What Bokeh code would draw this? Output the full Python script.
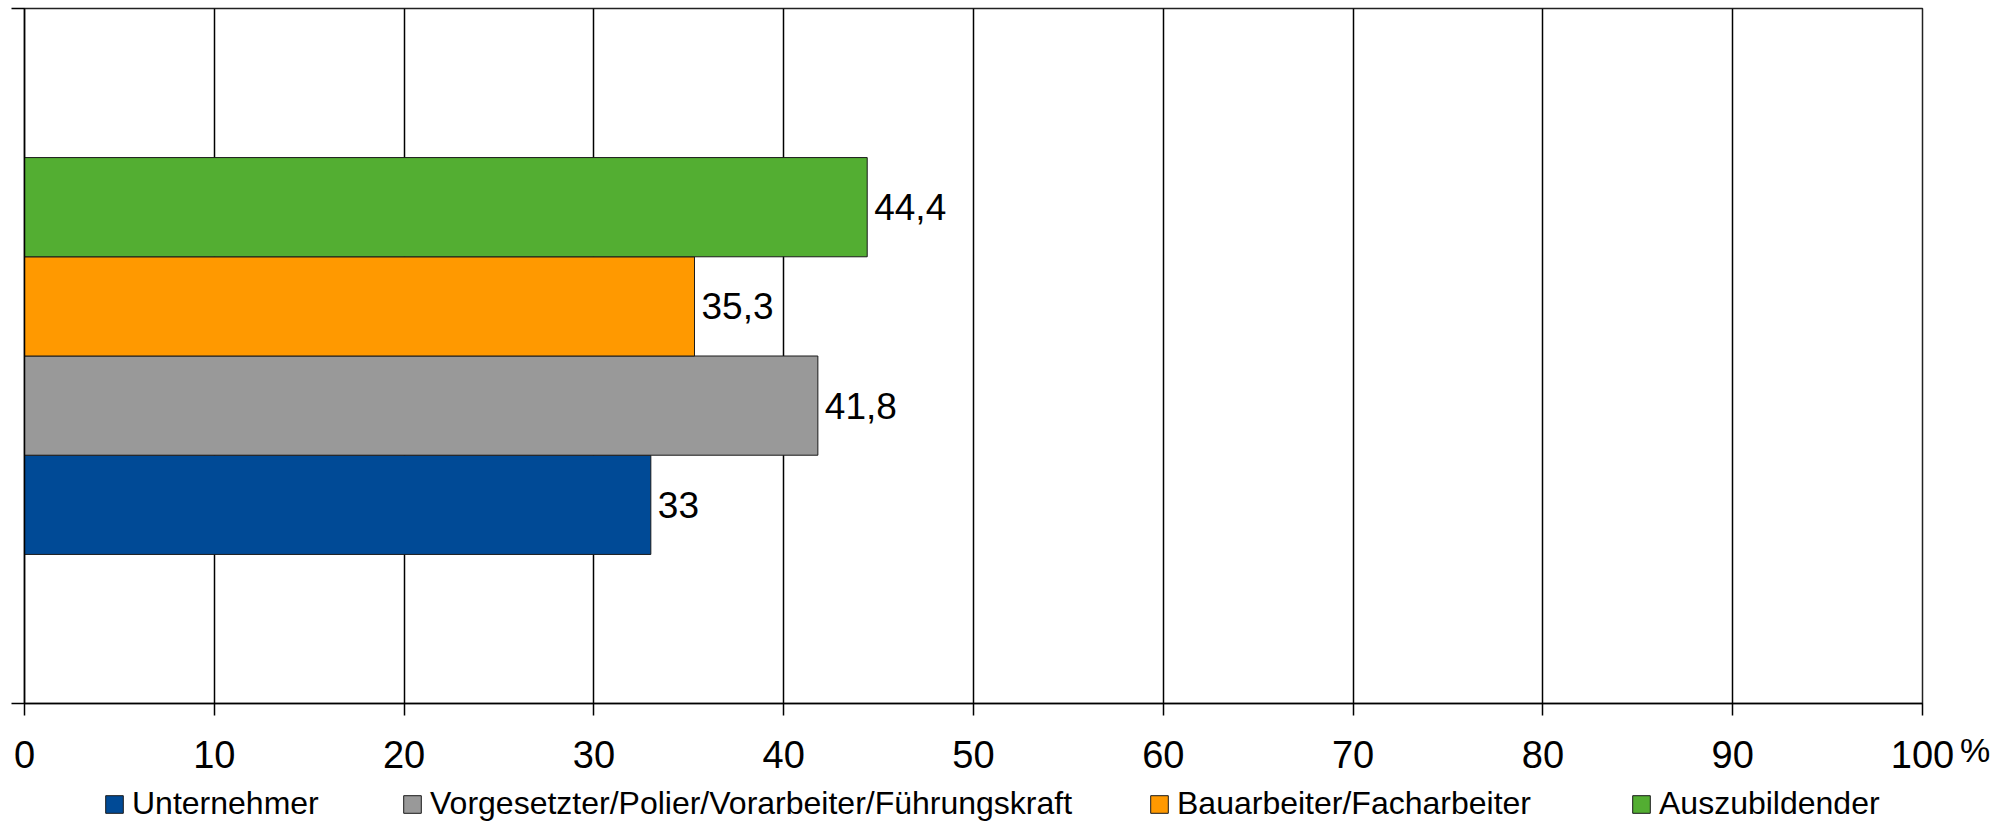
from bokeh.plotting import figure
from bokeh.layouts import column
from bokeh.models import ColumnDataSource, Legend, LegendItem, FixedTicker, Range1d
from bokeh.embed import file_html
from bokeh.resources import INLINE
from bokeh.core.properties import value

# ---- data ----
series = ["Unternehmer",
          "Vorgesetzter/Polier/Vorarbeiter/Führungskraft",
          "Bauarbeiter/Facharbeiter",
          "Auszubildender"]
values = [33.0, 41.8, 35.3, 44.4]
colors = ["#004A96", "#999999", "#FF9900", "#53AE32"]
x_ticks = [0, 10, 20, 30, 40, 50, 60, 70, 80, 90, 100]
tick_labels = ["0", "10", "20", "30", "40", "50", "60", "70", "80", "90", "100"]
unit_label = "%"

FONT = "Liberation Sans"
W = 1992
group_width = 0.571
bar_h = group_width / len(series)
n = len(series)
ypos = [0.5 + (i - (n - 1) / 2) * bar_h for i in range(n)]
labels = [f"{v:g}".replace(".", ",") for v in values]

p = figure(frame_width=1898, frame_height=695,
           x_range=Range1d(0, 100), y_range=Range1d(0, 1),
           output_backend="svg", toolbar_location=None,
           min_border_left=24, min_border_right=70,
           min_border_top=8, min_border_bottom=80)
p.background_fill_color = "white"
p.border_fill_color = "white"
p.outline_line_color = "#222222"
p.outline_line_width = 1.5

renderers = []
for i in range(n):
    src = ColumnDataSource(dict(y=[ypos[i]], v=[values[i]], lbl=[labels[i]]))
    r = p.hbar(y="y", left=0, right="v", height=bar_h, source=src,
               fill_color=colors[i], line_color="#1a1a1a", line_width=1)
    renderers.append(r)
    p.text(x="v", y="y", text="lbl", source=src, x_offset=7,
           text_align="left", text_baseline="middle",
           text_font=value(FONT), text_font_size="37px", text_color="black")

# x axis
xa = p.xaxis[0]
xa.ticker = FixedTicker(ticks=x_ticks)
xa.major_label_overrides = {t: l for t, l in zip(x_ticks, tick_labels)}
xa.major_label_text_font = FONT
xa.major_label_text_font_size = "38px"
xa.major_label_text_color = "black"
xa.major_label_standoff = 25
xa.major_tick_out = 12
xa.major_tick_in = 0
xa.minor_tick_line_color = None
xa.axis_line_width = 1.5
xa.major_tick_line_width = 1.5
xa.axis_line_color = "black"

# y axis: only category boundary ticks
ya = p.yaxis[0]
ya.ticker = FixedTicker(ticks=[0, 1])
ya.major_label_overrides = {0: "", 1: ""}
ya.major_label_text_font_size = "1px"
ya.major_label_standoff = 0
ya.major_tick_out = 13
ya.major_tick_in = 0
ya.minor_tick_line_color = None
ya.axis_line_width = 1.5
ya.major_tick_line_width = 1.5
ya.axis_line_color = "black"

p.xgrid.ticker = FixedTicker(ticks=x_ticks)
p.xgrid.grid_line_color = "black"
p.xgrid.grid_line_width = 1.5
p.ygrid.grid_line_color = None

# unit sign after the last tick label (legend entry with invisible glyph, right panel)
dummy = p.scatter(x=[], y=[], size=1, fill_alpha=0, line_alpha=0)
unit_leg = Legend(items=[LegendItem(label=unit_label, renderers=[dummy])],
                  location=(37, -67), padding=0, margin=0,
                  border_line_alpha=0, background_fill_alpha=0,
                  glyph_width=1, glyph_height=1, label_standoff=0,
                  label_text_font=FONT, label_text_font_size="34px",
                  label_text_color="black")
p.add_layout(unit_leg, "right")

# ---- legend strip below the chart ----
q = figure(frame_width=W, frame_height=40,
           x_range=Range1d(0, W), y_range=Range1d(0, 40),
           x_axis_location=None, y_axis_location=None,
           output_backend="svg", toolbar_location=None,
           min_border=0)
q.outline_line_color = None
q.grid.grid_line_color = None
q.background_fill_color = "white"
q.border_fill_color = "white"

legend_x = [103, 401, 1148, 1630]
for i in range(n):
    # legend swatch renderer, kept outside the visible range
    d = q.hbar(y=[-100], left=[0], right=[1], height=1,
               fill_color=colors[i], line_color="#1a1a1a", line_width=1)
    leg = Legend(items=[LegendItem(label=series[i], renderers=[d])],
                 location=(legend_x[i], 1), padding=0, margin=0,
                 border_line_alpha=0, background_fill_alpha=0,
                 glyph_width=22, glyph_height=22, label_standoff=7,
                 label_text_font=FONT, label_text_font_size="32px",
                 label_text_color="black")
    q.add_layout(leg, "center")

layout = column(p, q, spacing=0)
open("out.html", "w").write(file_html(layout, INLINE))
